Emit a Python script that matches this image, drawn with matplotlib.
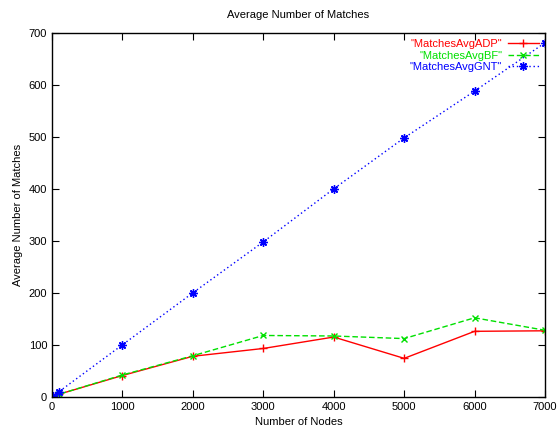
import matplotlib
matplotlib.use("Agg")
from matplotlib import pyplot as plt

plt.rcParams['font.family'] = ['Liberation Sans', 'DejaVu Sans']

nodes = [10, 100, 1000, 2000, 3000, 4000, 5000, 6000, 7000]
adp = [1, 5, 41, 78, 93, 115, 74, 126, 127]
bf = [1, 5, 42, 79, 118, 117, 112, 152, 128]
gnt = [1, 10, 100, 200, 298, 400, 498, 588, 681]

xticks = [0, 1000, 2000, 3000, 4000, 5000, 6000, 7000]
yticks = [0, 100, 200, 300, 400, 500, 600, 700]

fig = plt.figure(figsize=(5.59, 4.38), dpi=100)
ax = fig.add_axes([0.093, 0.094, 0.882, 0.831])

ax.plot(nodes, adp, color='#ff0000', lw=1, marker='+', ms=6, mew=1, label='"MatchesAvgADP"')
ax.plot(nodes, bf, color='#00e000', lw=1, ls=(0, (4, 2)), marker='x', ms=5, mew=1, label='"MatchesAvgBF"')
ax.plot(nodes, gnt, color='#0000ff', lw=1, ls=(0, (1, 2)), marker=(8, 2, 0), ms=6, mew=1, label='"MatchesAvgGNT"')

ax.set_xlim(0, 7000)
ax.set_ylim(0, 700)
ax.set_xticks(xticks)
ax.set_yticks(yticks)
ax.tick_params(direction='in', top=True, right=True, length=5, labelsize=8)
for s in ax.spines.values():
    s.set_linewidth(1)

ax.set_title('Average Number of Matches', fontsize=8, pad=11)
ax.set_xlabel('Number of Nodes', fontsize=8)
ax.set_ylabel('Average Number of Matches', fontsize=8)

leg = ax.legend(loc='upper right', markerfirst=False, frameon=False, fontsize=8,
                handlelength=2.8, borderaxespad=0.15, labelspacing=0.15, handletextpad=0.5)
for t, l in zip(leg.get_texts(), leg.get_lines()):
    t.set_color(l.get_color())

fig.savefig('out.png', dpi=100)
